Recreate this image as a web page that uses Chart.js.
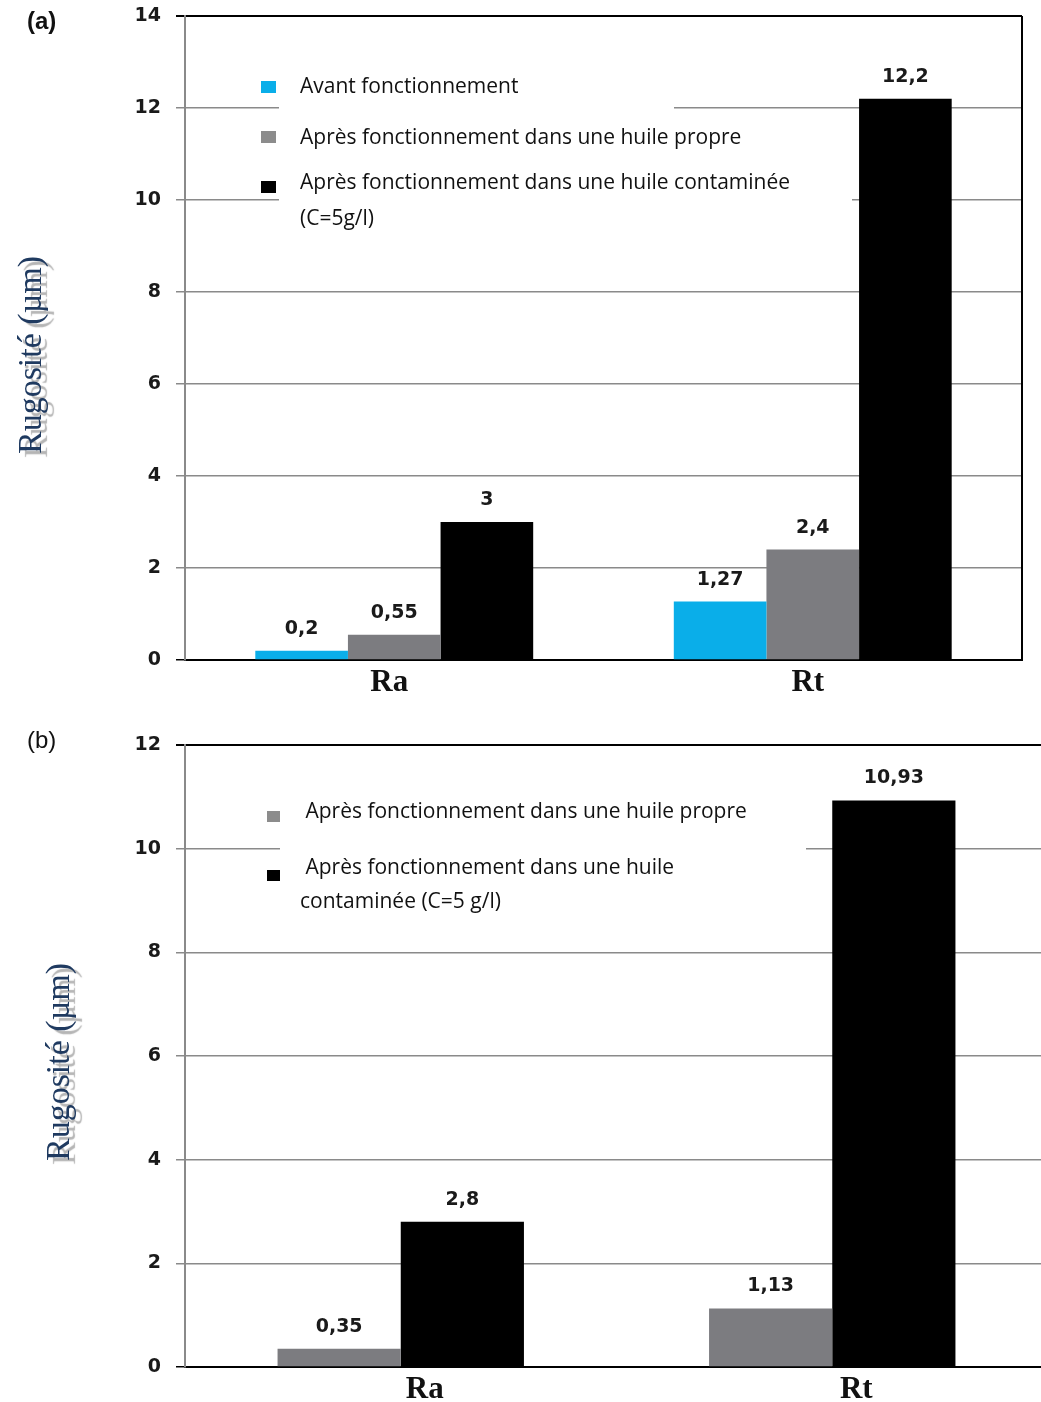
<!DOCTYPE html>
<html>
<head>
<meta charset="utf-8">
<script src="https://cdn.jsdelivr.net/npm/chart.js@4.4.1/dist/chart.umd.min.js"></script>
<style>
  html, body { margin: 0; padding: 0; background: #fff; overflow: hidden; }
  #wrap { position: relative; width: 1041px; height: 1402px; overflow: hidden; }
  #boxA { position: absolute; left: 0; top: 0; width: 1041px; height: 705px; }
  #boxB { position: absolute; left: 0; top: 705px; width: 1050px; height: 697px; }
  canvas { display: block; }
</style>
</head>
<body>
<div id="wrap">
  <div id="boxA"><canvas id="chartA"></canvas></div>
  <div id="boxB"><canvas id="chartB"></canvas></div>
</div>
<script>
// Roughness parameters on the x axis
const categories = ['Ra', 'Rt'];

// Panel (a): before running, after running in clean oil, after running in contaminated oil
const seriesNamesA = [
  'Avant fonctionnement',
  'Après fonctionnement dans une huile propre',
  'Après fonctionnement dans une huile contaminée\n(C=5g/l)'
];
const avantA = [0.2, 1.27];
const propreA = [0.55, 2.4];
const contamineeA = [3, 12.2];
const yTicksA = [0, 2, 4, 6, 8, 10, 12, 14];

// Panel (b): clean oil vs contaminated oil
const seriesNamesB = [
  ' Après fonctionnement dans une huile propre',
  ' Après fonctionnement dans une huile\ncontaminée (C=5 g/l)'
];
const propreB = [0.35, 1.13];
const contamineeB = [2.8, 10.93];
const yTicksB = [0, 2, 4, 6, 8, 10, 12];

const axisTitle = 'Rugosité (µm)';
const COLOR_BLUE = '#0aaee9';
const COLOR_GREY = '#7c7c80';
const COLOR_BLACK = '#000000';
const GRID_GREY = '#8a8a8a';

const fmt = v => String(v).replace('.', ',');

// White panel behind the in-plot legend, then markers and wrapped labels
const innerLegend = {
  id: 'innerLegend',
  afterDatasetsDraw(chart, args, o) {
    const ctx = chart.ctx;
    ctx.save();
    ctx.fillStyle = '#fff';
    o.masks.forEach(m => ctx.fillRect(m[0], m[1], m[2] - m[0], m[3] - m[1]));
    ctx.font = o.font;
    ctx.textBaseline = 'middle';
    ctx.textAlign = 'left';
    chart.data.datasets.forEach((ds, i) => {
      const it = o.items[i];
      ctx.fillStyle = o.markerColors[i];
      ctx.fillRect(it.mx, it.my, o.markerW, o.markerH);
      ctx.fillStyle = '#111';
      ds.label.split('\n').forEach((line, k) => ctx.fillText(line, it.tx[k], it.ty[k]));
    });
    ctx.restore();
  }
};

// Value written above each bar
const valueLabels = {
  id: 'valueLabels',
  afterDatasetsDraw(chart, args, o) {
    const ctx = chart.ctx;
    ctx.save();
    ctx.font = o.font;
    ctx.fillStyle = o.color;
    ctx.textAlign = 'center';
    ctx.textBaseline = 'middle';
    chart.data.datasets.forEach((ds, i) => {
      chart.getDatasetMeta(i).data.forEach((bar, j) => {
        ctx.fillText(fmt(ds.data[j]), bar.x, bar.y - o.gap);
      });
    });
    ctx.restore();
  }
};

// Right frame edge, panel tag and the shadowed vertical axis title
const decorations = {
  id: 'decorations',
  afterDraw(chart, args, o) {
    const ctx = chart.ctx;
    const a = chart.chartArea;
    ctx.save();
    if (o.rightFrame) {
      ctx.strokeStyle = '#000';
      ctx.lineWidth = 2;
      ctx.beginPath();
      ctx.moveTo(a.right, a.top);
      ctx.lineTo(a.right, a.bottom);
      ctx.stroke();
    }
    ctx.fillStyle = '#111';
    ctx.font = o.tagFont;
    ctx.textAlign = 'left';
    ctx.textBaseline = 'middle';
    ctx.fillText(o.tag, o.tagX, o.tagY);

    ctx.translate(o.titleX, o.titleY);
    ctx.rotate(-Math.PI / 2);
    ctx.font = o.titleFont;
    ctx.textAlign = 'center';
    ctx.textBaseline = 'middle';
    ctx.shadowColor = 'rgba(120,120,120,0.55)';
    ctx.shadowOffsetX = 6;
    ctx.shadowOffsetY = 4;
    ctx.shadowBlur = 1;
    ctx.fillStyle = '#1f3a60';
    ctx.fillText(axisTitle, 0, 0);
    ctx.restore();
  }
};

function makeChart(id, datasets, ticks, cfg) {
  const top = ticks[ticks.length - 1];
  return new Chart(document.getElementById(id), {
    type: 'bar',
    data: { labels: categories, datasets },
    plugins: [innerLegend, valueLabels, decorations],
    options: {
      responsive: true,
      maintainAspectRatio: false,
      animation: false,
      devicePixelRatio: 1,
      layout: { padding: { top: cfg.padTop, right: cfg.padRight, left: 0, bottom: 0 } },
      datasets: { bar: { barPercentage: 1, categoryPercentage: cfg.catPct } },
      plugins: {
        legend: { display: false },
        tooltip: { enabled: false },
        innerLegend: cfg.legend,
        valueLabels: { font: 'bold 19px "DejaVu Sans"', color: '#1a1a1a', gap: 22 },
        decorations: cfg.deco
      },
      scales: {
        x: {
          afterFit(s) { s.height = cfg.xHeight; },
          grid: { display: false },
          border: { display: true, color: '#000', width: 2 },
          ticks: {
            color: '#111',
            font: { family: '"Liberation Serif"', weight: 'bold', size: 31 },
            padding: -4,
            labelOffset: cfg.labelOffset
          }
        },
        y: {
          min: ticks[0],
          max: top,
          afterFit(s) { s.width = 185; s.paddingTop = 0; s.paddingBottom = 0; },
          afterBuildTicks(s) { s.ticks = ticks.map(v => ({ value: v })); },
          border: { display: true, color: GRID_GREY, width: 2 },
          grid: {
            color: c => (c.tick && (c.tick.value === top || c.tick.value === 0)) ? '#000' : GRID_GREY,
            lineWidth: c => (c.tick && c.tick.value === top) ? 2 : 1.5,
            tickLength: 9,
            drawTicks: true
          },
          ticks: {
            color: '#1a1a1a',
            padding: 15,
            font: { family: '"DejaVu Sans"', weight: 'bold', size: 19 },
            callback: v => fmt(v)
          }
        }
      }
    }
  });
}

makeChart('chartA', [
  { label: seriesNamesA[0], data: avantA, backgroundColor: COLOR_BLUE },
  { label: seriesNamesA[1], data: propreA, backgroundColor: COLOR_GREY },
  { label: seriesNamesA[2], data: contamineeA, backgroundColor: COLOR_BLACK }
], yTicksA, {
  padTop: 16, padRight: 19, xHeight: 45, catPct: 0.664, labelOffset: -5,
  legend: {
    font: '21px "Open Sans"',
    masks: [[279, 58, 674, 125], [279, 125, 852, 238]],
    markerW: 15, markerH: 12,
    markerColors: [COLOR_BLUE, '#8c8c8c', COLOR_BLACK],
    items: [
      { mx: 261, my: 81, tx: [300], ty: [87] },
      { mx: 261, my: 131, tx: [300], ty: [138] },
      { mx: 261, my: 181, tx: [300, 300], ty: [183, 219] }
    ]
  },
  deco: {
    rightFrame: true,
    tag: '(a)', tagFont: 'bold 24px "Liberation Sans"', tagX: 27, tagY: 22,
    titleFont: '34px "Liberation Serif"', titleX: 32, titleY: 355
  }
});

makeChart('chartB', [
  { label: seriesNamesB[0], data: propreB, backgroundColor: COLOR_GREY },
  { label: seriesNamesB[1], data: contamineeB, backgroundColor: COLOR_BLACK }
], yTicksB, {
  padTop: 40, padRight: 2, xHeight: 35, catPct: 0.571, labelOffset: 24,
  legend: {
    font: '21px "Open Sans"',
    masks: [[280, 85, 806, 215]],
    markerW: 13, markerH: 11,
    markerColors: ['#8c8c8c', COLOR_BLACK],
    items: [
      { mx: 267, my: 106, tx: [300], ty: [107] },
      { mx: 267, my: 165, tx: [300, 300], ty: [163, 197] }
    ]
  },
  deco: {
    rightFrame: false,
    tag: '(b)', tagFont: '24px "Liberation Sans"', tagX: 27, tagY: 36,
    titleFont: '34px "Liberation Serif"', titleX: 60, titleY: 357
  }
});
</script>
</body>
</html>
